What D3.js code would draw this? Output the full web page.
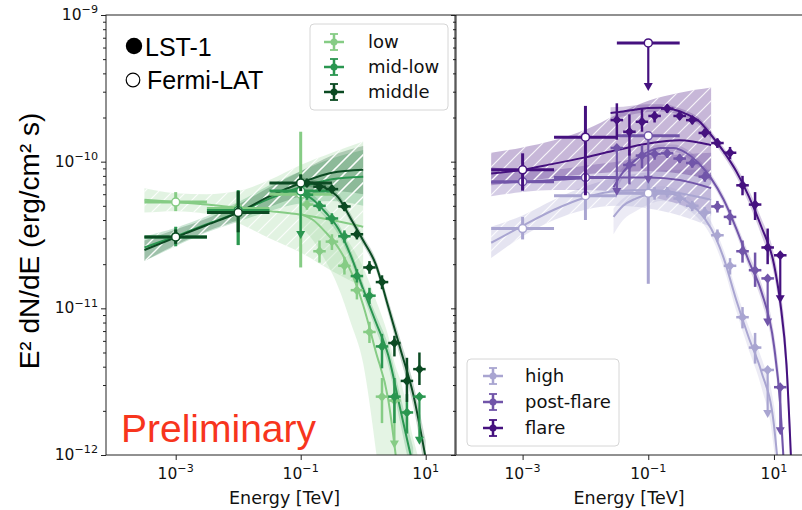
<!DOCTYPE html>
<html>
<head>
<meta charset="utf-8">
<script src="https://cdn.jsdelivr.net/npm/d3@7"></script>
<style>
body { margin: 0; background: #fff; }
</style>
</head>
<body>
<svg id="chart" width="802" height="510"></svg>
<script>
// ---- data: [E (TeV), E2dN/dE (erg/cm2 s), low, high, upper limit?] ----
// left panel (green)
const lowFermi = [
  [1e-3, 5.3e-11, 4.6e-11, 6.2e-11, 0],
  [1e-2, 4.8e-11, 2.7e-11, 6.2e-11, 0],
  [1e-1, 6.0e-11, 1.9e-11, 1.6e-10, 0]
];
const midlowFermi = [
  [1e-3, 3.07e-11, 2.65e-11, 3.6e-11, 0],
  [1e-2, 4.65e-11, 2.7e-11, 6.4e-11, 0],
  [1e-1, 6.3e-11, null, null, 1]
];
const middleFermi = [
  [1e-3, 3.07e-11, 2.75e-11, 3.45e-11, 0],
  [1e-2, 4.5e-11, 3.3e-11, 6.3e-11, 0],
  [1e-1, 7.16e-11, 6.3e-11, 8.2e-11, 0]
];
const lowLst = [
  [0.126, 5.1e-11, 4.7e-11, 5.5e-11, 0],
  [0.2, 2.45e-11, 2.05e-11, 2.9e-11, 0],
  [0.316, 2.85e-11, 2.5e-11, 3.2e-11, 0],
  [0.501, 1.95e-11, 1.7e-11, 2.25e-11, 0],
  [0.794, 1.33e-11, 1.15e-11, 1.52e-11, 0],
  [1.26, 6.9e-12, 5.8e-12, 8.1e-12, 0],
  [2.0, 2.5e-12, 1.65e-12, 3.35e-12, 0],
  [3.16, 2.35e-12, null, null, 1]
];
const midlowLst = [
  [0.126, 5.95e-11, 5.5e-11, 6.4e-11, 0],
  [0.2, 5.0e-11, 4.6e-11, 5.4e-11, 0],
  [0.316, 4.1e-11, 3.75e-11, 4.45e-11, 0],
  [0.501, 3.1e-11, 2.8e-11, 3.4e-11, 0],
  [0.794, 1.66e-11, 1.5e-11, 1.85e-11, 0],
  [1.26, 1.22e-11, 1.07e-11, 1.38e-11, 0],
  [2.0, 5.5e-12, 3.9e-12, 6.7e-12, 0],
  [3.16, 2.5e-12, 1.65e-12, 3.35e-12, 0],
  [5.01, 1.95e-12, 1.4e-12, 2.6e-12, 0],
  [7.94, 2.5e-12, null, null, 1]
];
const middleLst = [
  [0.126, 7.16e-11, 6.7e-11, 7.6e-11, 0],
  [0.2, 6.75e-11, 6.3e-11, 7.2e-11, 0],
  [0.316, 6.5e-11, 6.1e-11, 6.9e-11, 0],
  [0.501, 4.95e-11, 4.6e-11, 5.3e-11, 0],
  [0.794, 3.2e-11, 2.95e-11, 3.45e-11, 0],
  [1.26, 1.9e-11, 1.72e-11, 2.1e-11, 0],
  [2.0, 1.51e-11, 1.35e-11, 1.68e-11, 0],
  [3.16, 5.8e-12, 4.7e-12, 6.5e-12, 0],
  [5.01, 3.2e-12, 2.3e-12, 4.6e-12, 0],
  [7.94, 3.85e-12, 3.0e-12, 5.0e-12, 0]
];
// models: [E, value, band low, band high]
const lowFermiModel = [
  [3.16e-4, 5.5e-11, 4.5e-11, 6.6e-11], [1e-3, 5.3e-11, 4.6e-11, 6.1e-11],
  [3.16e-3, 5.1e-11, 4.4e-11, 6.0e-11], [1e-2, 4.85e-11, 3.8e-11, 6.3e-11],
  [3.16e-2, 4.6e-11, 3.0e-11, 7.5e-11], [0.1, 4.35e-11, 2.4e-11, 9.5e-11],
  [0.316, 4.0e-11, 1.8e-11, 1.15e-10], [1, 3.6e-11, 1.4e-11, 1.37e-10]
];
const midlowFermiModel = [
  [3.16e-4, 2.6e-11, 2.1e-11, 3.1e-11], [1e-3, 3.1e-11, 2.65e-11, 3.55e-11],
  [3.16e-3, 3.75e-11, 3.3e-11, 4.25e-11], [1e-2, 4.5e-11, 3.9e-11, 5.3e-11],
  [3.16e-2, 5.6e-11, 4.6e-11, 6.9e-11], [0.1, 6.7e-11, 5.2e-11, 8.6e-11],
  [0.316, 7.6e-11, 5.4e-11, 1.05e-10], [1, 7.9e-11, 5.0e-11, 1.2e-10]
];
const middleFermiModel = [
  [3.16e-4, 2.5e-11, 2.1e-11, 2.9e-11], [1e-3, 3.05e-11, 2.7e-11, 3.45e-11],
  [3.16e-3, 3.7e-11, 3.35e-11, 4.1e-11], [1e-2, 4.5e-11, 4.0e-11, 5.1e-11],
  [3.16e-2, 5.8e-11, 4.9e-11, 6.7e-11], [0.1, 7.16e-11, 5.8e-11, 8.6e-11],
  [0.316, 8.4e-11, 6.3e-11, 1.1e-10], [1, 8.8e-11, 6.0e-11, 1.28e-10]
];
const lowLstModel = [
  [0.1, 4.4e-11, 3.6e-11, 5.6e-11], [0.158, 4.0e-11, 2.9e-11, 5.0e-11],
  [0.251, 3.3e-11, 2.1e-11, 4.3e-11], [0.398, 2.6e-11, 1.4e-11, 3.6e-11],
  [0.631, 1.8e-11, 8e-12, 2.7e-11], [1.0, 1.05e-11, 4.2e-12, 1.9e-11],
  [1.585, 5.1e-12, 1.1e-12, 1.15e-11], [2.512, 2.4e-12, 2e-13, 6.5e-12],
  [3.311, 1.0e-12, 3e-14, 4.0e-12], [3.981, 5e-13, 1e-14, 3.2e-12],
  [6.31, 1e-13, 1e-14, 1.3e-12], [7.94, 5e-14, 1e-14, 9e-13]
];
const midlowLstModel = [
  [0.1, 6.2e-11, 5.7e-11, 6.7e-11], [0.158, 5.5e-11, 5.05e-11, 5.95e-11],
  [0.251, 4.5e-11, 4.15e-11, 4.85e-11], [0.398, 3.5e-11, 3.2e-11, 3.8e-11],
  [0.631, 2.3e-11, 2.1e-11, 2.5e-11], [1.0, 1.35e-11, 1.22e-11, 1.48e-11],
  [1.585, 8.1e-12, 7.2e-12, 9.1e-12], [2.512, 4.8e-12, 4.1e-12, 5.6e-12],
  [3.981, 2.0e-12, 1.6e-12, 2.5e-12], [5.75, 1.0e-12, 7.6e-13, 1.3e-12],
  [6.31, 8.5e-13, 6.3e-13, 1.12e-12]
];
const middleLstModel = [
  [0.1, 7.3e-11, 6.8e-11, 7.8e-11], [0.158, 7.1e-11, 6.65e-11, 7.55e-11],
  [0.251, 6.6e-11, 6.2e-11, 7.0e-11], [0.398, 5.7e-11, 5.35e-11, 6.05e-11],
  [0.631, 4.1e-11, 3.85e-11, 4.4e-11], [1.0, 2.9e-11, 2.7e-11, 3.1e-11],
  [1.585, 2.0e-11, 1.85e-11, 2.17e-11], [2.512, 1.03e-11, 9.3e-12, 1.14e-11],
  [3.981, 5.2e-12, 4.5e-12, 6.0e-12], [6.31, 2.6e-12, 2.15e-12, 3.1e-12],
  [10.0, 9.5e-13, 7.2e-13, 1.25e-12]
];

// right panel (purple)
const highFermi = [
  [1e-3, 3.5e-11, 2.95e-11, 4.2e-11, 0],
  [1e-2, 5.86e-11, 4.0e-11, 6.9e-11, 0],
  [1e-1, 6.1e-11, 1.47e-11, 8.0e-11, 0]
];
const postFermi = [
  [1e-3, 7.3e-11, 6.3e-11, 8.4e-11, 0],
  [1e-2, 7.8e-11, 6.1e-11, 1.0e-10, 0],
  [1e-1, 1.5e-10, null, null, 1]
];
const flareFermi = [
  [1e-3, 8.8e-11, 6.4e-11, 1.14e-10, 0],
  [1e-2, 1.47e-10, 5.9e-11, 2.4e-10, 0],
  [1e-1, 6.45e-10, null, null, 1]
];
const highLst = [
  [0.126, 6.1e-11, 5.5e-11, 6.7e-11, 0],
  [0.2, 6.2e-11, 5.7e-11, 6.7e-11, 0],
  [0.316, 5.6e-11, 5.2e-11, 6.0e-11, 0],
  [0.501, 5.0e-11, 4.6e-11, 5.4e-11, 0],
  [0.794, 4.5e-11, 4.1e-11, 4.9e-11, 0],
  [1.26, 3.15e-11, 2.85e-11, 3.45e-11, 0],
  [2.0, 1.95e-11, 1.7e-11, 2.2e-11, 0],
  [3.16, 8.7e-12, 7.3e-12, 1.02e-11, 0],
  [5.01, 5.4e-12, 4.2e-12, 6.8e-12, 0],
  [7.94, 3.8e-12, null, null, 1]
];
const postLst = [
  [0.0316, 1.24e-10, null, null, 1],
  [0.0501, 9.5e-11, 7.0e-11, 1.2e-10, 0],
  [0.0794, 1.1e-10, 9.0e-11, 1.3e-10, 0],
  [0.126, 1.13e-10, 1.03e-10, 1.23e-10, 0],
  [0.2, 1.14e-10, 1.06e-10, 1.22e-10, 0],
  [0.316, 1.05e-10, 9.8e-11, 1.12e-10, 0],
  [0.501, 9.8e-11, 9.1e-11, 1.05e-10, 0],
  [0.794, 7.9e-11, 7.3e-11, 8.5e-11, 0],
  [1.26, 4.95e-11, 4.5e-11, 5.4e-11, 0],
  [2.0, 4.2e-11, 3.7e-11, 4.7e-11, 0],
  [3.16, 2.45e-11, 2.05e-11, 2.9e-11, 0],
  [5.01, 1.82e-11, 1.4e-11, 2.4e-11, 0],
  [7.94, 1.6e-11, null, null, 1],
  [12.6, 2.9e-12, null, null, 1]
];
const flareLst = [
  [0.0316, 1.92e-10, 1.41e-10, 2.5e-10, 0],
  [0.0501, 1.6e-10, 1.1e-10, 2.1e-10, 0],
  [0.0794, 1.87e-10, 1.6e-10, 2.3e-10, 0],
  [0.126, 2.05e-10, 1.85e-10, 2.2e-10, 0],
  [0.2, 2.3e-10, 2.15e-10, 2.45e-10, 0],
  [0.316, 2.05e-10, 1.93e-10, 2.17e-10, 0],
  [0.501, 1.92e-10, 1.8e-10, 2.04e-10, 0],
  [0.794, 1.57e-10, 1.47e-10, 1.67e-10, 0],
  [1.26, 1.34e-10, 1.24e-10, 1.44e-10, 0],
  [2.0, 1.15e-10, 1.04e-10, 1.26e-10, 0],
  [3.16, 6.9e-11, 5.9e-11, 8.0e-11, 0],
  [5.01, 5.1e-11, 4.0e-11, 6.2e-11, 0],
  [7.94, 2.6e-11, 2.0e-11, 3.5e-11, 0],
  [12.6, 2.3e-11, null, null, 1]
];
const highFermiModel = [
  [3.16e-4, 2.8e-11, 2.2e-11, 3.6e-11], [1e-3, 3.65e-11, 3.1e-11, 4.3e-11],
  [3.16e-3, 4.7e-11, 4.0e-11, 5.5e-11], [1e-2, 5.7e-11, 4.7e-11, 6.8e-11],
  [3.16e-2, 6.3e-11, 5.0e-11, 7.8e-11], [0.1, 6.4e-11, 4.8e-11, 8.5e-11],
  [0.316, 6.1e-11, 4.3e-11, 8.8e-11], [1, 5.5e-11, 3.6e-11, 8.8e-11]
];
const postFermiModel = [
  [3.16e-4, 7.2e-11, 5.8e-11, 9.2e-11], [1e-3, 7.3e-11, 6.2e-11, 8.7e-11],
  [3.16e-3, 7.5e-11, 6.4e-11, 8.8e-11], [1e-2, 7.7e-11, 6.4e-11, 9.4e-11],
  [3.16e-2, 7.8e-11, 6.2e-11, 1.0e-10], [0.1, 7.8e-11, 5.8e-11, 1.08e-10],
  [0.316, 7.5e-11, 5.1e-11, 1.12e-10], [1, 6.6e-11, 4.3e-11, 1.15e-10]
];
const flareFermiModel = [
  [3.16e-4, 8.3e-11, 6.9e-11, 1.15e-10], [1e-3, 8.8e-11, 7.3e-11, 1.25e-10],
  [3.16e-3, 9.7e-11, 7.8e-11, 1.4e-10], [1e-2, 1.07e-10, 8.2e-11, 1.65e-10],
  [3.16e-2, 1.2e-10, 8.5e-11, 2.1e-10], [0.1, 1.33e-10, 8.6e-11, 2.6e-10],
  [0.316, 1.4e-10, 8.3e-11, 2.95e-10], [1, 1.3e-10, 7.5e-11, 3.2e-10]
];
const highLstModel = [
  [0.028, 4.2e-11, 3.2e-11, 4.8e-11], [0.0398, 5.0e-11, 4.0e-11, 5.6e-11],
  [0.0631, 5.6e-11, 4.6e-11, 6.2e-11], [0.1, 6.0e-11, 5.1e-11, 6.6e-11],
  [0.158, 6.2e-11, 5.4e-11, 6.8e-11], [0.251, 6.0e-11, 5.3e-11, 6.6e-11],
  [0.398, 5.4e-11, 4.8e-11, 5.9e-11], [0.631, 4.6e-11, 4.1e-11, 5.0e-11],
  [1.0, 3.5e-11, 3.1e-11, 3.9e-11], [1.585, 2.2e-11, 1.9e-11, 2.5e-11],
  [2.512, 1.14e-11, 9.6e-12, 1.32e-11], [3.981, 6.3e-12, 5.2e-12, 7.5e-12],
  [6.31, 3.7e-12, 2.9e-12, 4.6e-12], [10.0, 1.6e-12, 1.1e-12, 2.2e-12],
  [11.2, 1.0e-12, 6.5e-13, 1.5e-12]
];
const postLstModel = [
  [0.028, 6.7e-11, 6.0e-11, 7.4e-11], [0.0398, 8.5e-11, 7.8e-11, 9.2e-11],
  [0.0631, 1.03e-10, 9.6e-11, 1.1e-10], [0.1, 1.17e-10, 1.1e-10, 1.24e-10],
  [0.158, 1.24e-10, 1.17e-10, 1.31e-10], [0.251, 1.24e-10, 1.17e-10, 1.31e-10],
  [0.398, 1.15e-10, 1.08e-10, 1.22e-10], [0.631, 9.8e-11, 9.2e-11, 1.04e-10],
  [1.0, 7.7e-11, 7.2e-11, 8.2e-11], [1.585, 5.5e-11, 5.1e-11, 5.9e-11],
  [2.512, 3.5e-11, 3.2e-11, 3.8e-11], [3.981, 2.1e-11, 1.9e-11, 2.35e-11],
  [6.31, 1.3e-11, 1.13e-11, 1.48e-11], [10.0, 5.6e-12, 4.6e-12, 6.8e-12],
  [12.59, 2.2e-12, 1.7e-12, 2.9e-12], [14.1, 1.0e-12, 7e-13, 1.4e-12]
];
const flareLstModel = [
  [0.0251, 2.15e-10, 1.95e-10, 2.35e-10], [0.0398, 2.2e-10, 2.04e-10, 2.37e-10],
  [0.0631, 2.27e-10, 2.12e-10, 2.42e-10], [0.1, 2.32e-10, 2.18e-10, 2.46e-10],
  [0.158, 2.33e-10, 2.2e-10, 2.46e-10], [0.251, 2.27e-10, 2.15e-10, 2.39e-10],
  [0.398, 2.12e-10, 2.01e-10, 2.23e-10], [0.631, 1.9e-10, 1.8e-10, 2.0e-10],
  [1.0, 1.52e-10, 1.43e-10, 1.61e-10], [1.585, 1.17e-10, 1.09e-10, 1.25e-10],
  [2.512, 8.6e-11, 7.9e-11, 9.3e-11], [3.981, 5.8e-11, 5.2e-11, 6.4e-11],
  [6.31, 3.6e-11, 3.15e-11, 4.1e-11], [10.0, 2.0e-11, 1.7e-11, 2.35e-11],
  [12.59, 1.1e-11, 9.0e-12, 1.35e-11], [15.85, 4.1e-12, 3.1e-12, 5.4e-12],
  [18.6, 1.0e-12, 7e-13, 1.4e-12]
];

const fermiHalfBinDec = 0.5;   // Fermi bins are one decade wide
const lstHalfBinDec = 0.1;     // LST bins are 0.2 decade wide
const xTicks = [1e-3, 1e-1, 10];
const yTicks = [1e-12, 1e-11, 1e-10, 1e-9];

const leftSeries = [
  { name: "low", color: "#86cc85", fermi: lowFermi, lst: lowLst, fermiModel: lowFermiModel, lstModel: lowLstModel },
  { name: "mid-low", color: "#2a9650", fermi: midlowFermi, lst: midlowLst, fermiModel: midlowFermiModel, lstModel: midlowLstModel },
  { name: "middle", color: "#0b4a22", fermi: middleFermi, lst: middleLst, fermiModel: middleFermiModel, lstModel: middleLstModel }
];
const rightSeries = [
  { name: "high", color: "#a9a5d1", fermi: highFermi, lst: highLst, fermiModel: highFermiModel, lstModel: highLstModel },
  { name: "post-flare", color: "#7155a9", fermi: postFermi, lst: postLst, fermiModel: postFermiModel, lstModel: postLstModel },
  { name: "flare", color: "#45117f", fermi: flareFermi, lst: flareLst, fermiModel: flareFermiModel, lstModel: flareLstModel }
];

// ---- layout ----
const FONT = "'DejaVu Sans', sans-serif";
const FONT_ARIAL = "'Liberation Sans', Arial, sans-serif";
const Y_TOP = 15, Y_BOT = 455;
const svg = d3.select("#chart");
const defs = svg.append("defs");

const hatch = defs.append("pattern")
  .attr("id", "hatch")
  .attr("patternUnits", "userSpaceOnUse")
  .attr("width", 14).attr("height", 14);
hatch.append("path")
  .attr("d", "M-2,2 L2,-2 M0,14 L14,0 M12,16 L16,12")
  .attr("stroke", "#fff")
  .attr("stroke-width", 1.2);

const y = d3.scaleLog().domain([1e-12, 1e-9]).range([Y_BOT, Y_TOP]);

const panels = [
  { x0: 106, x1: 455, lg: [-4.115, 1.469], series: leftSeries, yLabels: true, bandAlpha: 0.24 },
  { x0: 456, x1: 806, lg: [-4.06, 1.51], series: rightSeries, yLabels: false, bandAlpha: 0.3 }
];

function powLabel(sel, exp, fs) {
  sel.append("tspan").text("10");
  sel.append("tspan")
    .attr("dy", -fs * 0.42)
    .attr("font-size", fs * 0.72)
    .text(exp < 0 ? "\u2212" + (-exp) : String(exp));
}

function drawErrorPoints(g, x, pts, color, hollow, halfDec) {
  pts.forEach(d => {
    const [E, F, lo, hi, ul] = d;
    const cx = x(E), cy = y(F);
    const w = hollow ? 3 : 2.5;
    g.append("line")
      .attr("x1", x(E / Math.pow(10, halfDec))).attr("x2", x(E * Math.pow(10, halfDec)))
      .attr("y1", cy).attr("y2", cy)
      .attr("stroke", color).attr("stroke-width", w);
    if (ul) {
      const tip = cy + 48;
      g.append("line")
        .attr("x1", cx).attr("x2", cx).attr("y1", cy).attr("y2", tip - 6)
        .attr("stroke", color).attr("stroke-width", 2.2);
      g.append("path")
        .attr("d", `M${cx - 4.5},${tip - 8} L${cx + 4.5},${tip - 8} L${cx},${tip} Z`)
        .attr("fill", color);
    } else {
      g.append("line")
        .attr("x1", cx).attr("x2", cx).attr("y1", y(lo)).attr("y2", y(hi))
        .attr("stroke", color).attr("stroke-width", w);
    }
    if (hollow) {
      g.append("circle").attr("cx", cx).attr("cy", cy).attr("r", 4)
        .attr("fill", "#fff").attr("stroke", color).attr("stroke-width", 1.5);
    } else {
      g.append("path")
        .attr("d", `M${cx},${cy - 5} L${cx + 4.5},${cy} L${cx},${cy + 5} L${cx - 4.5},${cy} Z`)
        .attr("fill", color);
    }
  });
}

panels.forEach((p, i) => {
  const x = d3.scaleLog().domain([Math.pow(10, p.lg[0]), Math.pow(10, p.lg[1])]).range([p.x0, p.x1]);
  const clipId = "clip" + i;
  defs.append("clipPath").attr("id", clipId).append("rect")
    .attr("x", p.x0).attr("y", Y_TOP).attr("width", p.x1 - p.x0).attr("height", Y_BOT - Y_TOP);
  const g = svg.append("g").attr("clip-path", `url(#${clipId})`);

  const area = d3.area().x(d => x(d[0])).y0(d => y(d[2])).y1(d => y(d[3])).curve(d3.curveMonotoneX);
  const line = d3.line().x(d => x(d[0])).y(d => y(d[1])).curve(d3.curveMonotoneX);

  // Fermi bands, hatched
  p.series.forEach(s => {
    g.append("path").datum(s.fermiModel).attr("d", area)
      .attr("fill", s.color).attr("fill-opacity", p.bandAlpha);
  });
  p.series.forEach(s => {
    g.append("path").datum(s.fermiModel).attr("d", area)
      .attr("fill", "url(#hatch)").attr("opacity", 0.85);
  });
  // LST bands
  p.series.forEach(s => {
    g.append("path").datum(s.lstModel).attr("d", area)
      .attr("fill", s.color).attr("fill-opacity", 0.22);
  });
  // model lines
  p.series.forEach(s => {
    g.append("path").datum(s.fermiModel).attr("d", line)
      .attr("fill", "none").attr("stroke", s.color).attr("stroke-width", 2);
    g.append("path").datum(s.lstModel).attr("d", line)
      .attr("fill", "none").attr("stroke", s.color).attr("stroke-width", 2);
  });
  // points
  p.series.forEach(s => {
    drawErrorPoints(g, x, s.lst, s.color, false, lstHalfBinDec);
    drawErrorPoints(g, x, s.fermi, s.color, true, fermiHalfBinDec);
  });

  // axes
  const xAxis = svg.append("g").attr("transform", `translate(0,${Y_BOT})`)
    .call(d3.axisBottom(x).tickValues(xTicks).tickSize(5).tickFormat(""));
  xAxis.select(".domain").remove();
  xTicks.forEach(t => {
    const txt = svg.append("text")
      .attr("x", x(t)).attr("y", 479)
      .attr("text-anchor", "middle")
      .attr("font-family", FONT).attr("font-size", 15.5).attr("fill", "#111");
    powLabel(txt, Math.round(Math.log10(t)), 15.5);
  });
  svg.append("text")
    .attr("x", (p.x0 + Math.min(p.x1, 802)) / 2 + (i === 0 ? 4 : 0)).attr("y", 504)
    .attr("text-anchor", "middle")
    .attr("font-family", FONT).attr("font-size", 17.5).attr("fill", "#111")
    .text("Energy [TeV]");

  const minors = [];
  [-12, -11, -10].forEach(e => { for (let k = 2; k <= 9; k++) minors.push(k * Math.pow(10, e)); });
  const yAx = svg.append("g").attr("transform", `translate(${p.x0},0)`)
    .call(d3.axisLeft(y).tickValues(yTicks).tickSize(5).tickFormat(""));
  yAx.select(".domain").remove();
  const yMin = svg.append("g").attr("transform", `translate(${p.x0},0)`)
    .call(d3.axisLeft(y).tickValues(minors).tickSize(3).tickFormat(""));
  yMin.select(".domain").remove();
  svg.selectAll(".tick line").attr("stroke", "#222");

  if (p.yLabels) {
    yTicks.forEach(t => {
      const txt = svg.append("text")
        .attr("x", p.x0 - 8).attr("y", y(t) + 5)
        .attr("text-anchor", "end")
        .attr("font-family", FONT).attr("font-size", 15.5).attr("fill", "#111");
      powLabel(txt, Math.round(Math.log10(t)), 15.5);
    });
  }

  // frame
  svg.append("rect")
    .attr("x", p.x0).attr("y", Y_TOP).attr("width", p.x1 - p.x0).attr("height", Y_BOT - Y_TOP)
    .attr("fill", "none").attr("stroke", "#222").attr("stroke-width", 1);
});

// ---- legends ----
function drawLegend(x0, y0, w, h, iconX, textX, rows, series) {
  svg.append("rect").attr("x", x0).attr("y", y0).attr("width", w).attr("height", h)
    .attr("rx", 4).attr("fill", "#fff").attr("fill-opacity", 0.85)
    .attr("stroke", "#d6d6d6").attr("stroke-width", 1);
  series.forEach((s, k) => {
    const cy = rows[k];
    const gg = svg.append("g").attr("stroke", s.color).attr("stroke-width", 2.5);
    gg.append("line").attr("x1", iconX - 10).attr("x2", iconX + 10).attr("y1", cy).attr("y2", cy);
    gg.append("line").attr("x1", iconX).attr("x2", iconX).attr("y1", cy - 8).attr("y2", cy + 8);
    gg.append("line").attr("x1", iconX - 4).attr("x2", iconX + 4).attr("y1", cy - 8).attr("y2", cy - 8).attr("stroke-width", 1.8);
    gg.append("line").attr("x1", iconX - 4).attr("x2", iconX + 4).attr("y1", cy + 8).attr("y2", cy + 8).attr("stroke-width", 1.8);
    svg.append("circle").attr("cx", iconX).attr("cy", cy).attr("r", 3.5).attr("fill", s.color);
    svg.append("text").attr("x", textX).attr("y", cy + 6)
      .attr("font-family", FONT).attr("font-size", 18).attr("fill", "#111")
      .text(s.name);
  });
}
drawLegend(310, 24, 138, 86, 334, 368, [42, 67, 92], leftSeries);
drawLegend(467, 359, 152, 87, 493, 525, [376, 402, 428], rightSeries);

// ---- annotations ----
svg.append("circle").attr("cx", 134).attr("cy", 46).attr("r", 8.2).attr("fill", "#000");
svg.append("text").attr("x", 145).attr("y", 56)
  .attr("font-family", FONT_ARIAL).attr("font-size", 25).attr("fill", "#000").text("LST-1");
svg.append("circle").attr("cx", 133).attr("cy", 80).attr("r", 6.8)
  .attr("fill", "#fff").attr("stroke", "#000").attr("stroke-width", 1.2);
svg.append("text").attr("x", 147).attr("y", 89)
  .attr("font-family", FONT_ARIAL).attr("font-size", 25).attr("fill", "#000").text("Fermi-LAT");

svg.append("text").attr("x", 121).attr("y", 442)
  .attr("font-family", FONT_ARIAL).attr("font-size", 39).attr("fill", "#f7351d").text("Preliminary");

svg.append("text")
  .attr("transform", "translate(39,241) rotate(-90)")
  .attr("text-anchor", "middle")
  .attr("font-family", FONT_ARIAL).attr("font-size", 28).attr("fill", "#000")
  .text("E\u00b2 dN/dE (erg/cm\u00b2 s)");
</script>
</body>
</html>
